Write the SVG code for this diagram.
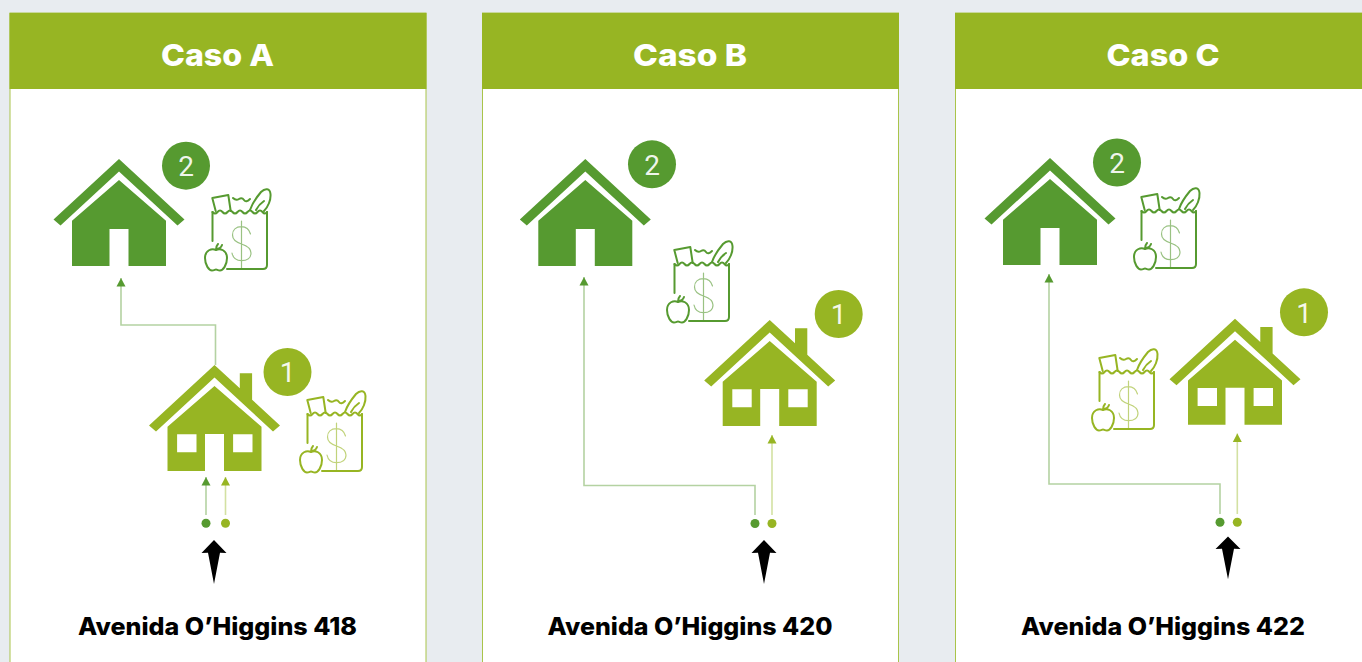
<svg xmlns="http://www.w3.org/2000/svg" width="1362" height="662" viewBox="0 0 1362 662">
<style>
.panel{fill:#fff;stroke:#a9c44a;stroke-width:1}
.hdr{fill:#97b523}
.title{font-family:"Inter","Liberation Sans",sans-serif;font-weight:800;font-size:30.500px;fill:#fff;text-anchor:middle}
.addr{font-family:"Inter","Liberation Sans",sans-serif;font-weight:800;font-size:24px;fill:#000;text-anchor:middle}
.num{font-family:"Roboto","Liberation Sans",sans-serif;font-weight:400;font-size:28px;fill:#fff;fill-opacity:.92;text-anchor:middle}
.dk{fill:#569a30}.lm{fill:#97b523}
.bag{fill:none;stroke-width:2;stroke-linecap:round;stroke-linejoin:round}
.s{stroke-width:1.200;opacity:.6}
.cd{fill:none;stroke:#b4d2a2;stroke-width:1.600}
.cl{fill:none;stroke:#d3e1a2;stroke-width:1.600}
</style>
<defs>
<marker id="ad" markerUnits="userSpaceOnUse" markerWidth="10" markerHeight="10" refX="5" refY="0.500" viewBox="0 0 10 10"><path d="M5 0.500L9.500 9H0.500Z" fill="#569a30"/></marker>
<marker id="al" markerUnits="userSpaceOnUse" markerWidth="10" markerHeight="10" refX="5" refY="0.500" viewBox="0 0 10 10"><path d="M5 0.500L9.500 9H0.500Z" fill="#97b523"/></marker>
<g id="house2">
<path d="M0 0L65.500 60.500L58.500 66.500L0 12.500L-58.500 66.500L-65.500 60.500Z"/>
<path d="M0 21L47 61.700V107H9.500V70H-9.500V107H-47V61.700Z"/>
</g>
<g id="house1">
<path d="M0 0L25.300 23.300V8.300H37.600V34.700L65.500 60.500L58.500 66.500L0 12.500L-58.500 66.500L-65.500 60.500Z"/>
<path fill-rule="evenodd" d="M0 21L47 61.700V106H9.500V69H-9.500V106H-47V61.700Z M-37.400 69.300V87.300H-18V69.300Z M18.600 69.300V87.300H38V69.300Z"/>
</g>
<g id="bag">
<path d="M212.500 241V212M227 269H263Q267 269 267 265V212"/>
<path d="M212.500 212q2.500 3 5 0t5 0t5 0t5 0t5 0t5 0t5 0t5 0t5 0t5 0t4.500 0"/>
<path d="M215.700 211L212.300 198L228.300 195L230.700 211"/>
<path d="M233 198q3 3 6 1t5 1t6 -1"/>
<path d="M250 210C252 204 256 198 261 192C265 188 270 188 270.500 194C271 200 268 207 264 211M256 210C258 206 261 203 264 201"/>
<path d="M216 250C212 248 205 250 205 258C205 265 209 270.500 212 270.500C214 270.500 215 269.500 216 269.500C217 269.500 218 270.500 220 270.500C223 270.500 227 265 227 258C227 250 220 248 216 250ZM216 250C216 247 217 245 218 244M216 249C218 249 221 248 222 245"/>
<path class="s" d="M250.500 234C249 229 245 226.700 241.500 226.700C236 226.700 232.500 230 232.500 235C232.500 240 237 242.500 241.500 244C246 245.500 251 248 251 253C251 258 247 260.700 241.500 260.700C237 260.700 233 258 232 253M241.500 221V268"/>
</g>
<path id="bigarrow" d="M0 0L12.500 13L6 12.700L0 44L-6 12.700L-12.500 13Z" fill="#000"/>
</defs>
<rect width="1362" height="662" fill="#e8ecf0"/>

<g id="case-a">
<rect class="panel" x="10" y="13" width="416" height="660"/>
<rect class="hdr" x="9.500" y="13" width="417" height="76"/>
<text class="title" x="217.500" y="66" textLength="113" lengthAdjust="spacingAndGlyphs">Caso A</text>
<text class="addr" x="217.500" y="635" textLength="279" lengthAdjust="spacingAndGlyphs">Avenida O’Higgins 418</text>
</g>
<g id="case-b">
<rect class="panel" x="482.500" y="13" width="416" height="660"/>
<rect class="hdr" x="482" y="13" width="417" height="76"/>
<text class="title" x="690" y="66" textLength="114" lengthAdjust="spacingAndGlyphs">Caso B</text>
<text class="addr" x="690" y="635" textLength="285" lengthAdjust="spacingAndGlyphs">Avenida O’Higgins 420</text>
</g>
<g id="case-c">
<rect class="panel" x="955.500" y="13" width="416" height="660"/>
<rect class="hdr" x="955" y="13" width="417" height="76"/>
<text class="title" x="1163" y="66" textLength="113" lengthAdjust="spacingAndGlyphs">Caso C</text>
<text class="addr" x="1163" y="635" textLength="284" lengthAdjust="spacingAndGlyphs">Avenida O’Higgins 422</text>
</g>

<g id="connectors">
<path class="cd" d="M215.500 365V325H121V278" marker-end="url(#ad)"/>
<path class="cd" d="M206 515V477" marker-end="url(#ad)"/>
<path class="cl" d="M225.500 515V477" marker-end="url(#al)"/>
<path class="cd" d="M755 515V485.500H584V277" marker-end="url(#ad)"/>
<path class="cl" d="M772 515V435" marker-end="url(#al)"/>
<path class="cd" d="M1220 514V484H1049V274" marker-end="url(#ad)"/>
<path class="cl" d="M1237.300 514V433.500" marker-end="url(#al)"/>
<circle class="dk" cx="206" cy="523.300" r="4.500"/><circle class="lm" cx="225.500" cy="523.300" r="4.500"/>
<circle class="dk" cx="755" cy="523.500" r="4.500"/><circle class="lm" cx="772" cy="523.500" r="4.500"/>
<circle class="dk" cx="1220" cy="522.300" r="4.500"/><circle class="lm" cx="1237.300" cy="522.300" r="4.500"/>
<use href="#bigarrow" x="214" y="540"/>
<use href="#bigarrow" x="764" y="540"/>
<use href="#bigarrow" transform="translate(1228 536.500) scale(1 .97)"/>
</g>

<g id="a-house-2" class="dk"><use href="#house2" x="119" y="159"/><circle cx="186" cy="165.700" r="24"/><text class="num" x="186" y="176">2</text></g>
<g id="a-bag-2" class="bag" stroke="#569a30"><use href="#bag"/></g>
<g id="a-house-1" class="lm"><use href="#house1" x="214.500" y="365"/><circle cx="287.500" cy="372" r="24"/><text class="num" x="287.500" y="382">1</text></g>
<g id="a-bag-1" class="bag" stroke="#97b523"><use href="#bag" x="95" y="202"/></g>

<g id="b-house-2" class="dk"><use href="#house2" x="585.300" y="159"/><circle cx="652" cy="164.300" r="24"/><text class="num" x="652" y="175">2</text></g>
<g id="b-bag-2" class="bag" stroke="#569a30"><use href="#bag" x="462" y="52"/></g>
<g id="b-house-1" class="lm"><use href="#house1" x="769.700" y="320"/><circle cx="838.700" cy="314" r="24"/><text class="num" x="838.700" y="324">1</text></g>

<g id="c-house-2" class="dk"><use href="#house2" x="1050" y="158"/><circle cx="1117" cy="162.500" r="24"/><text class="num" x="1117" y="173">2</text></g>
<g id="c-bag-2" class="bag" stroke="#569a30"><use href="#bag" x="929" y="-1"/></g>
<g id="c-house-1" class="lm"><use href="#house1" x="1235" y="318.700"/><circle cx="1304" cy="312.300" r="24"/><text class="num" x="1304" y="322.500">1</text></g>
<g id="c-bag-1" class="bag" stroke="#97b523"><use href="#bag" x="887" y="160"/></g>
</svg>
